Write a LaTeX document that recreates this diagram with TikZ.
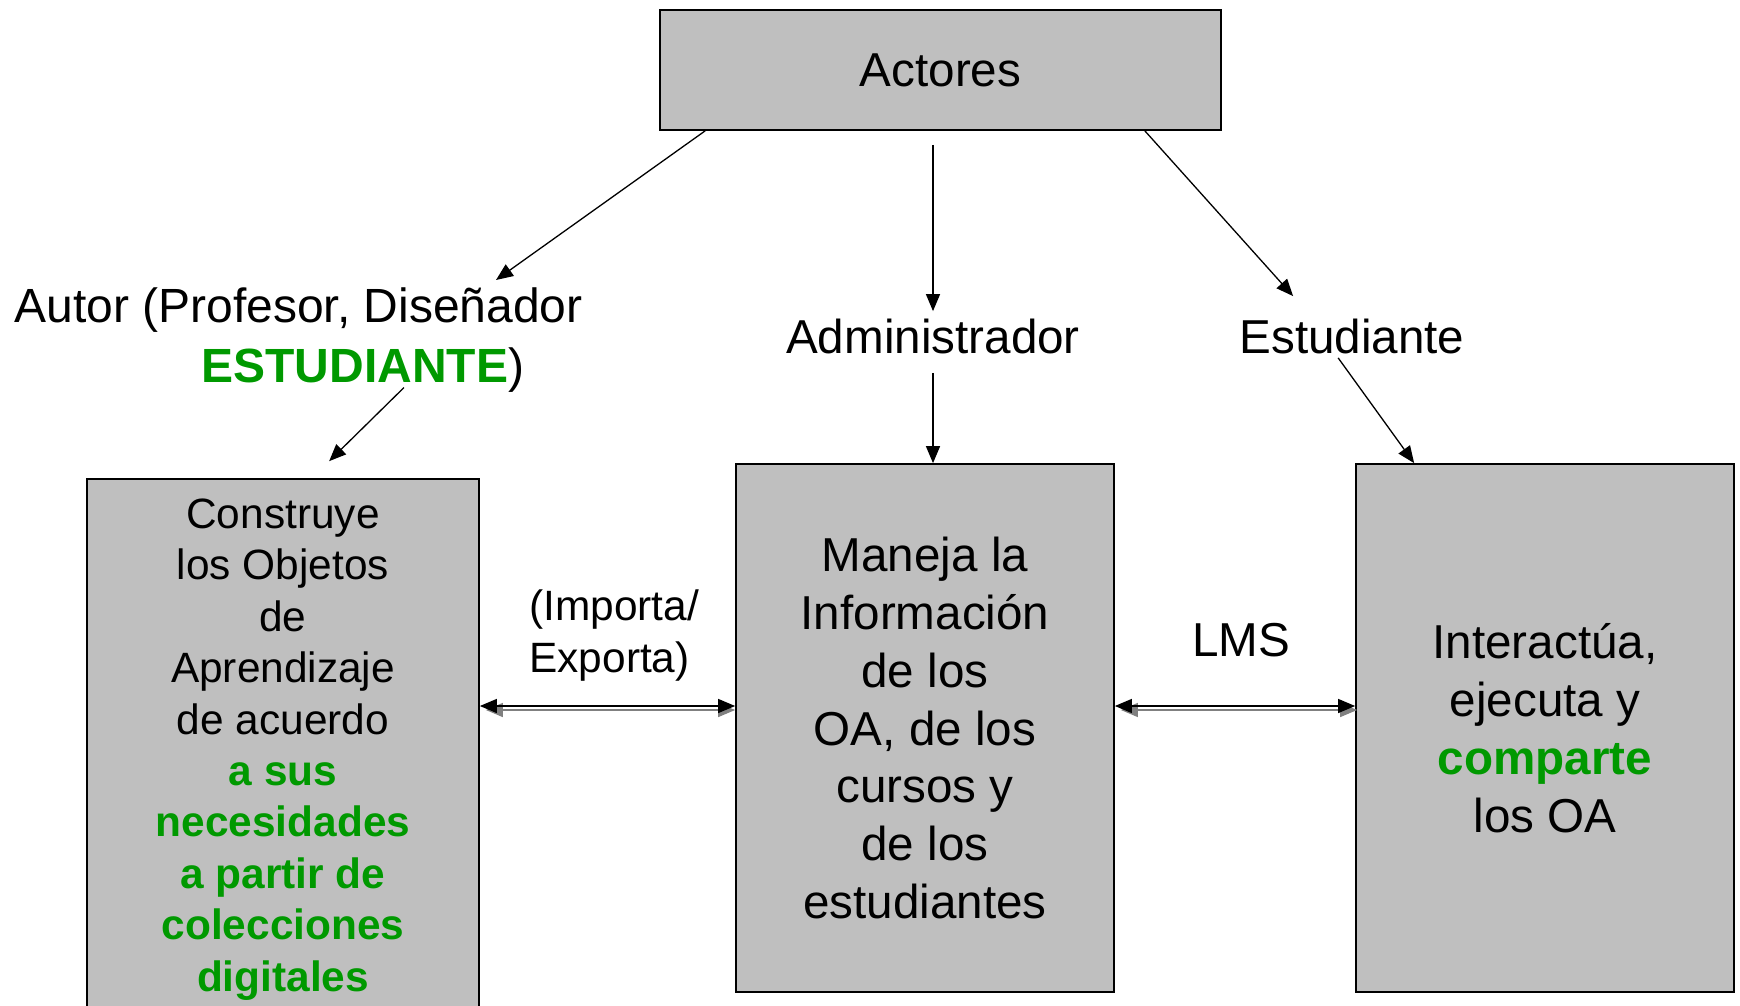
\documentclass[tikz,border=0pt]{standalone}
\usepackage{fontspec}
\setmainfont{Liberation Sans}
\usetikzlibrary{arrows.meta}
\definecolor{gron}{rgb}{0,0.6,0}
\definecolor{gris}{rgb}{0.75,0.75,0.75}
\newcommand{\resalta}[1]{\textcolor{gron}{\textbf{#1}}}
\tikzset{
  caja/.style={draw, line width=0.85pt, fill=gris, align=center, inner sep=0pt},
  flecha/.style={-{Triangle[length=8.5pt,width=7pt]}, line width=0.65pt},
  doble/.style={{Triangle[length=8.5pt,width=7pt]}-{Triangle[length=8.5pt,width=7pt]}, line width=0.65pt},
  etiq/.style={inner sep=0pt, font=\fontsize{23.8}{28.6}\selectfont}
}

\begin{document}
\begin{tikzpicture}[x=0.5pt,y=-0.5pt]
\useasboundingbox (0,0) rectangle (1740,1006);
\clip (0,0) rectangle (1740,1006);
\node[caja, minimum width=280.5pt, minimum height=60pt, font=\fontsize{23.8}{28.6}\selectfont] (act) at (940.5,70) {Actores};
\node[caja, minimum width=196pt, minimum height=270.5pt, font=\fontsize{21.2}{25.7}\selectfont] (lbox) at (283,749.5) {Construye\\los Objetos\\de\\Aprendizaje\\de acuerdo\\\resalta{a sus}\\\resalta{necesidades}\\\resalta{a partir de}\\\resalta{colecciones}\\\resalta{digitales}};
\node[caja, minimum width=189pt, minimum height=264pt, font=\fontsize{23.8}{28.9}\selectfont] (mbox) at (925,728) {Maneja la\\Información\\de los\\OA, de los\\cursos y\\de los\\estudiantes};
\node[caja, minimum width=189pt, minimum height=264pt, font=\fontsize{23.8}{28.9}\selectfont] (rbox) at (1545,728) {Interactúa,\\ejecuta y\\\resalta{comparte}\\los OA};
\node[etiq, align=left, anchor=north west, font=\fontsize{24}{30}\selectfont] (autor) at (14,287) {Autor (Profesor, Diseñador\\\hspace*{93.5pt}\resalta{ESTUDIANTE})};
\node[etiq] (admin) at (933,336) {Administrador};
\node[etiq] (estud) at (1352,336) {Estudiante};
\node[etiq, align=left, anchor=west, font=\fontsize{21.2}{26}\selectfont] (impexp) at (529,636) {(Importa/\\Exporta)};
\node[etiq] (lms) at (1241,640) {LMS};
\draw[flecha] ([xshift=23pt]act.south west) -- ([xshift=241pt,yshift=3.5pt]autor.north west);
\draw[flecha, shorten <=7pt, shorten >=3.5pt] (admin.north |- act.south) -- (admin.north);
\draw[flecha] ([xshift=-38.5pt]act.south east) -- ([xshift=27pt,yshift=11pt]estud.north west);
\draw[flecha] ([xshift=195pt,yshift=2.5pt]autor.south west) -- ([xshift=121.5pt,yshift=8.5pt]lbox.north west);
\draw[flecha, shorten <=9.5pt] (admin.south) -- (admin.south |- mbox.north);
\draw[flecha] ([xshift=49.5pt,yshift=-2pt]estud.south west) -- ([xshift=29.5pt]rbox.north west);
\draw[doble, gray] ([xshift=3pt,yshift=19.75pt]lbox.east) -- ([yshift=9pt]mbox.west);
\draw[doble] ([yshift=21.75pt]lbox.east) -- ([yshift=11pt]mbox.west);
\draw[doble, gray] ([xshift=3pt,yshift=9pt]mbox.east) -- ([xshift=1pt,yshift=9pt]rbox.west);
\draw[doble] ([yshift=11pt]mbox.east) -- ([yshift=11pt]rbox.west);
\end{tikzpicture}
\end{document}
